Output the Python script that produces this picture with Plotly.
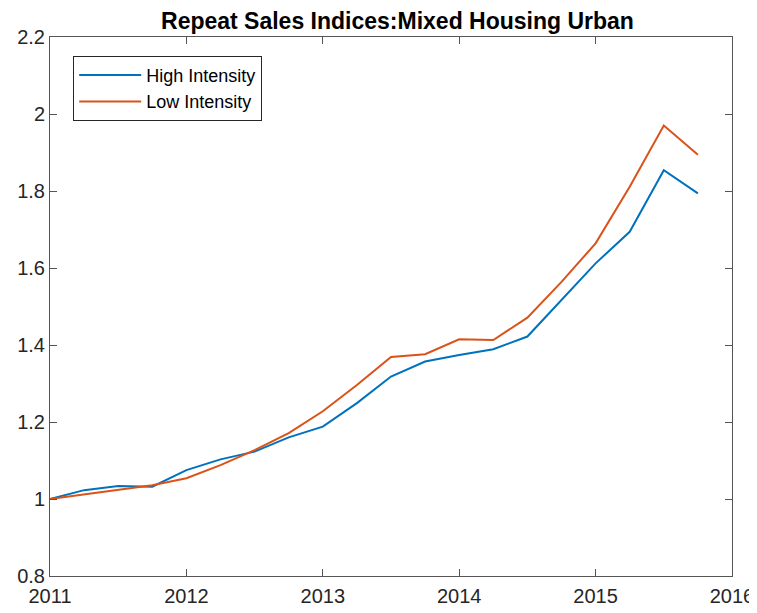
import plotly.graph_objects as go

# quarterly index values, 2011Q1 .. 2015Q4
quarters = [2011 + 0.25 * i for i in range(20)]
high_intensity = [1.000, 1.023, 1.034, 1.032, 1.075, 1.103, 1.123, 1.160, 1.188, 1.249,
                  1.318, 1.357, 1.374, 1.389, 1.422, 1.517, 1.612, 1.694, 1.854, 1.794]
low_intensity = [1.000, 1.012, 1.025, 1.036, 1.054, 1.088, 1.127, 1.171, 1.228, 1.296,
                 1.369, 1.376, 1.415, 1.413, 1.471, 1.564, 1.664, 1.811, 1.970, 1.894]
x_ticks = [2011, 2012, 2013, 2014, 2015, 2016]
y_ticks = [0.8, 1.0, 1.2, 1.4, 1.6, 1.8, 2.0, 2.2]
y_tick_text = ["0.8", "1", "1.2", "1.4", "1.6", "1.8", "2", "2.2"]

font = "Liberation Sans, Arial, Helvetica, sans-serif"

fig = go.Figure()
fig.add_trace(go.Scatter(x=quarters, y=high_intensity, mode="lines",
                         name="High Intensity",
                         line=dict(color="#0072BD", width=2)))
fig.add_trace(go.Scatter(x=quarters, y=low_intensity, mode="lines",
                         name="Low Intensity",
                         line=dict(color="#D95319", width=2)))

axis_common = dict(showgrid=False, zeroline=False, showline=True,
                   linecolor="#555555", linewidth=1, mirror="ticks",
                   ticks="inside", ticklen=7, tickcolor="#555555",
                   automargin=False,
                   tickfont=dict(family=font, size=20, color="#262626"))

# the page body adds an 8px offset, so the figure is sized to fit inside it
fig.update_layout(
    width=749, height=605,
    margin=dict(l=42, r=25, t=29, b=37),
    paper_bgcolor="white", plot_bgcolor="white",
    title=dict(text="<b>Repeat Sales Indices:Mixed Housing Urban</b>",
               x=0.52, xanchor="center", y=0.979, yanchor="middle",
               font=dict(family=font, size=23, color="black")),
    xaxis=dict(range=[2011, 2016], tickvals=x_ticks, ticklabelstandoff=2,
               **axis_common),
    yaxis=dict(range=[0.8, 2.2], tickvals=y_ticks, ticktext=y_tick_text,
               **axis_common),
    legend=dict(x=0.034, y=0.965, xanchor="left", yanchor="top",
                bgcolor="white", bordercolor="#262626", borderwidth=1,
                font=dict(family=font, size=18, color="black"),
                itemwidth=62, tracegroupgap=0),
    showlegend=True,
)

fig.write_html("out.html")
